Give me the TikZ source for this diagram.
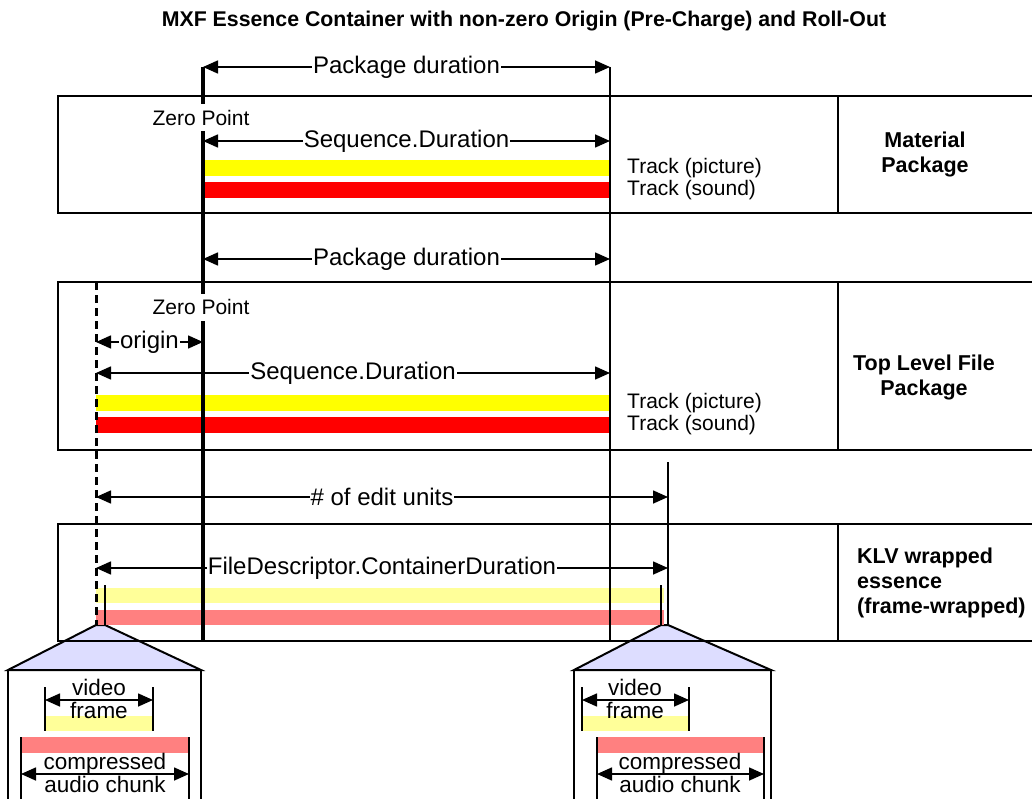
\documentclass[tikz,border=0pt]{standalone}
\usepackage{fontspec}
\setmainfont{Liberation Sans}
\usepackage{xcolor}
\usetikzlibrary{arrows.meta,positioning}
\definecolor{vidbar}{RGB}{255,255,0}
\definecolor{audbar}{RGB}{255,0,0}
\definecolor{vidpale}{RGB}{255,255,153}
\definecolor{audpale}{RGB}{255,128,128}
\definecolor{zoomfill}{RGB}{221,221,255}

\begin{document}
\begin{tikzpicture}[x=1pt, y=-1pt, >={Triangle[length=15pt,width=13pt]},
	frame/.style={line width=2pt},
	dim/.style={<->, line width=1.6pt},
	bar/.style={line width=15.5pt},
	dimlabel/.style={fill=white, inner sep=1pt, font=\fontsize{24}{24}\selectfont},
	zerolabel/.style={fill=white, inner xsep=1pt, minimum height=27pt, font=\fontsize{21}{21}\selectfont},
	tracklabel/.style={anchor=west, align=left, inner sep=0pt, font=\fontsize{21}{21.5}\selectfont},
	pkglabel/.style={align=center, inner sep=0pt, font=\fontsize{21.5}{25}\selectfont\bfseries},
	zoomlabel/.style={inner sep=0pt, anchor=base, font=\fontsize{22.5}{20}\selectfont}]
	\useasboundingbox (0,0) rectangle (1032,799);

	\node[font=\fontsize{21.3}{22}\selectfont\bfseries](Title) at (524,21){MXF Essence Container with non-zero Origin (Pre-Charge) and Roll-Out};

	\filldraw[frame, fill=zoomfill] (96,625) -- (105,625) -- (201,670) -- (8,670) -- cycle;
	\draw[frame] (8,670) -- (8,800) (201,670) -- (201,800);
	\filldraw[frame, fill=zoomfill] (661,625) -- (668,625) -- (771,670) -- (574,670) -- cycle;
	\draw[frame] (574,670) -- (574,800) (771,670) -- (771,800);

	\draw[frame] (1033,96) -- (58,96) -- (58,213) -- (1033,213) (838,96) -- (838,213);
	\draw[frame] (1033,282) -- (58,282) -- (58,450) -- (1033,450) (838,282) -- (838,450);
	\draw[frame] (1033,524) -- (58,524) -- (58,641) -- (1033,641) (838,524) -- (838,641);

	\draw[bar, vidbar] (203,168) -- (610,168);
	\draw[bar, audbar] (203,190) -- (610,190);
	\draw[bar, vidbar] (96,403) -- (610,403);
	\draw[bar, audbar] (96,425) -- (610,425);
	\draw[bar, vidpale] (96,595.5) -- (664,595.5);
	\draw[bar, audpale] (96,617.5) -- (664,617.5);
	\draw[frame] (105,585) -- (105,625) (661,585) -- (661,625);

	\draw[frame] (610,67) -- (610,641);
	\draw[frame] (668,462) -- (668,625);
	\draw[line width=3pt, dash pattern=on 8pt off 5pt] (96,282) -- (96,625);

	\coordinate (MpDurL) at (203,67);  \coordinate (MpDurR) at (610,67);
	\coordinate (MpSeqL) at (203,141); \coordinate (MpSeqR) at (610,141);
	\coordinate (FpDurL) at (203,259); \coordinate (FpDurR) at (610,259);
	\coordinate (FpOrgL) at (96,342);  \coordinate (FpOrgR) at (203,342);
	\coordinate (FpSeqL) at (96,373);  \coordinate (FpSeqR) at (610,373);
	\coordinate (EuL) at (96,497);     \coordinate (EuR) at (668,497);
	\coordinate (CdL) at (96,568);     \coordinate (CdR) at (668,568);

	\draw[dim] (MpDurL) -- node[dimlabel](MpDur){Package duration} (MpDurR);
	\draw[dim] (MpSeqL) -- node[dimlabel](MpSeq){Sequence.Duration} (MpSeqR);
	\draw[dim] (FpDurL) -- node[dimlabel](FpDur){Package duration} (FpDurR);
	\draw[dim] (FpOrgL) -- node[dimlabel](FpOrg){origin} (FpOrgR);
	\draw[dim] (FpSeqL) -- node[dimlabel](FpSeq){Sequence.Duration} (FpSeqR);
	\draw[dim] (EuL) -- node[dimlabel](Eu){\# of edit units} (EuR);
	\draw[dim] (CdL) -- node[dimlabel](Cd){FileDescriptor.ContainerDuration} (CdR);

	\draw[line width=4pt] (203,67) -- (203,642);
	\node[zerolabel](MpZero) at (201,118){Zero Point};
	\node[zerolabel](FpZero) at (201,307){Zero Point};

	\node[tracklabel](MpTrack) at (627,179){Track (picture)\\Track (sound)};
	\node[tracklabel](FpTrack) at (627,414){Track (picture)\\Track (sound)};
	\node[pkglabel](MpName) at (925,154){Material\\Package};
	\node[pkglabel](FpName) at (924,377){Top Level File\\Package};
	\node[pkglabel, align=left, anchor=west](KlvName) at (857,583){KLV wrapped\\essence\\(frame-wrapped)};

	\coordinate (InVidL) at (45,700);  \coordinate (InVidR) at (153,700);
	\coordinate (InAudL) at (21,774);  \coordinate (InAudR) at (189,774);
	\draw[bar, vidpale] (45,723.5) -- (153,723.5);
	\draw[bar, audpale] (21,745) -- (189,745);
	\draw[frame] (45,687) -- (45,731) (153,687) -- (153,731) (21,737) -- (21,800) (189,737) -- (189,800);
	\draw[dim] (InVidL) -- (InVidR);
	\draw[dim] (InAudL) -- (InAudR);
	\node[zoomlabel](InVideo) at (99,695){video};
	\node[zoomlabel](InFrame) at (99,718){frame};
	\node[zoomlabel](InComp) at (105,769){compressed};
	\node[zoomlabel](InChunk) at (105,792){audio chunk};

	\coordinate (OutVidL) at (582,700); \coordinate (OutVidR) at (689,700);
	\coordinate (OutAudL) at (597,774); \coordinate (OutAudR) at (764,774);
	\draw[bar, vidpale] (582,723.5) -- (689,723.5);
	\draw[bar, audpale] (597,745) -- (764,745);
	\draw[frame] (582,687) -- (582,731) (689,687) -- (689,731) (597,737) -- (597,800) (764,737) -- (764,800);
	\draw[dim] (OutVidL) -- (OutVidR);
	\draw[dim] (OutAudL) -- (OutAudR);
	\node[zoomlabel](OutVideo) at (635,695){video};
	\node[zoomlabel](OutFrame) at (635,718){frame};
	\node[zoomlabel](OutComp) at (680,769){compressed};
	\node[zoomlabel](OutChunk) at (680,792){audio chunk};
\end{tikzpicture}
\end{document}
